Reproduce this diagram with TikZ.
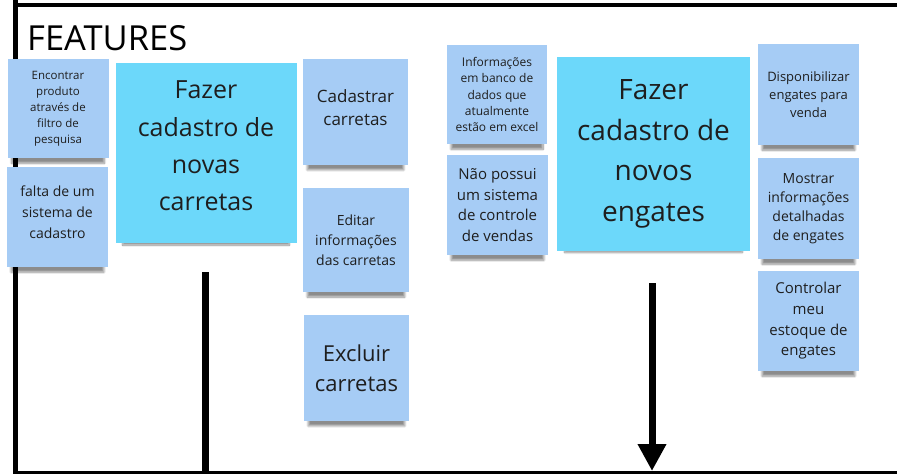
\documentclass[tikz,border=0pt]{standalone}
\usepackage{fontspec}
\setmainfont{Open Sans}
\usetikzlibrary{arrows.meta,shadows.blur}
\definecolor{stickyblue}{HTML}{A6CCF5}
\definecolor{stickycyan}{HTML}{6CD8FA}
\definecolor{inkgray}{HTML}{1E1E1E}
\newcommand{\fs}[2]{\fontsize{#1}{#2}\selectfont}
\tikzset{
	sticky/.style={fill=stickyblue,text=inkgray,align=center,inner sep=0pt,
		minimum width=101,minimum height=100,
		blur shadow={shadow xshift=0pt,shadow yshift=-10pt,shadow scale=0.92,
			shadow opacity=45,shadow blur steps=10}},
	bigsticky/.style={sticky,fill=stickycyan},
	frameline/.style={line width=4.5pt,black},
}

\begin{document}
\begin{tikzpicture}[x=1pt,y=-1pt]
	\useasboundingbox (0,0) rectangle (897,474);
	\coordinate (cantosup) at (13.5,5);
	\coordinate (fimsup) at (897,5);
	\coordinate (topoesq) at (15.5,0);
	\coordinate (baseesq) at (15.5,474);
	\coordinate (inicioinf) at (15.5,472.5);
	\coordinate (fiminf) at (897,472.5);
	\coordinate (divtopo) at (205.5,272);
	\coordinate (divbase) at (205.5,474);
	\coordinate (setatopo) at (652,283);
	\coordinate (setafim) at (652,471);
	\draw[frameline] (topoesq) -- (baseesq);
	\draw[frameline] (cantosup) -- (fimsup);
	\draw[line width=3pt] (inicioinf) -- (fiminf);
	\draw[line width=6.5pt] (divtopo) -- (divbase);
	\draw[line width=7pt,-{Triangle[width=27pt,length=27pt]}] (setatopo) -- (setafim);

	\node[anchor=base west,inner sep=0pt,font=\fs{34.5}{40}] (titulo) at (27,50) {FEATURES};

	\begin{scope}
		\node[sticky,minimum height=99,font=\fs{11.5}{16}] (filtro) at (58,108.5)
			{Encontrar\\produto\\através de\\filtro de\\pesquisa};
		\node[sticky,font=\fs{14}{21},text depth=9pt] (faltacadastro) at (57.5,217)
			{falta de um\\sistema de\\cadastro};
		\node[bigsticky,minimum width=181,minimum height=180,font=\fs{25}{37.3},text depth=14pt] (fazercarretas) at (206,153)
			{Fazer\\cadastro de\\novas\\carretas};
		\node[sticky,minimum width=105,minimum height=106,font=\fs{17}{23},text depth=8pt] (cadastrar) at (355.5,112)
			{Cadastrar\\carretas};
		\node[sticky,minimum width=106,minimum height=104,font=\fs{14}{20}] (editar) at (356,240)
			{Editar\\informações\\das carretas};
		\node[sticky,minimum width=105,minimum height=106,font=\fs{22}{30}] (excluir) at (356.5,368)
			{Excluir\\carretas};
	\end{scope}

	\begin{scope}
		\node[sticky,minimum width=100,minimum height=99,font=\fs{12}{16.3}] (excel) at (497,94.5)
			{Informações\\em banco de\\dados que\\atualmente\\estão em excel};
		\node[sticky,font=\fs{15}{20.5}] (vendas) at (497.5,205)
			{Não possui\\um sistema\\de controle\\de vendas};
		\node[bigsticky,minimum width=193,minimum height=194,font=\fs{28}{40.5}] (fazerengates) at (653.5,154)
			{Fazer\\cadastro de\\novos\\engates};
		\node[sticky,minimum height=101,font=\fs{13}{18}] (disponibilizar) at (808.5,94.5)
			{Disponibilizar\\engates para\\venda};
		\node[sticky,minimum height=101,font=\fs{14}{19}] (mostrar) at (808.5,208.5)
			{Mostrar\\informações\\detalhadas\\de engates};
		\node[sticky,font=\fs{15}{20.7}] (controlar) at (808.5,321)
			{Controlar\\meu\\estoque de\\engates};
	\end{scope}
\end{tikzpicture}
\end{document}
